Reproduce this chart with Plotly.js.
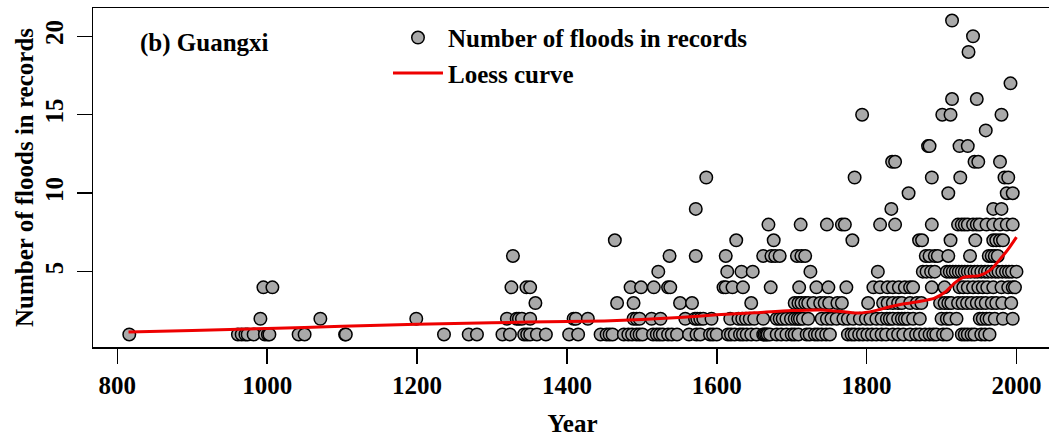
<!DOCTYPE html>
<html>
<head>
<meta charset="utf-8">
<script src="https://cdn.plot.ly/plotly-3.0.1.min.js"></script>
<style>
html,body{margin:0;padding:0;background:#fff;overflow:hidden;width:1049px;height:439px;}
#chart{width:1056px;height:439px;}
</style>
</head>
<body>
<div id="chart"></div>
<script>
const yearsCount1 = [816, 961, 966, 971, 974, 982, 997, 1001, 1003, 1042, 1050, 1104, 1105,
  1236, 1269, 1280, 1314, 1324, 1343, 1347, 1351, 1360, 1372, 1403, 1415, 1445, 1453, 1457, 1461,
  1476, 1482, 1487, 1493, 1497, 1501, 1515, 1520, 1524, 1528, 1535, 1540, 1547, 1563, 1573, 1578,
  1591, 1595, 1600, 1615, 1619, 1624, 1631, 1635, 1640, 1646, 1653, 1662, 1664, 1666, 1668, 1671,
  1680, 1686, 1693, 1700, 1704, 1709, 1720, 1724, 1731, 1735, 1740, 1746, 1751, 1775, 1780, 1784,
  1790, 1795, 1801, 1807, 1813, 1820, 1826, 1835, 1842, 1849, 1858, 1866, 1871, 1878, 1884, 1889,
  1893, 1902, 1907, 1927, 1931, 1935, 1940, 1944, 1953, 1958, 1964];
const yearsCount2 = [991, 1071, 1199, 1320, 1333, 1336, 1340, 1351, 1409, 1412, 1428, 1489, 1493,
  1497, 1513, 1525, 1558, 1571, 1574, 1578, 1582, 1593, 1618, 1629, 1634, 1639, 1644, 1650, 1662,
  1680, 1684, 1688, 1693, 1699, 1704, 1708, 1711, 1715, 1722, 1740, 1747, 1753, 1760, 1769, 1775,
  1782, 1791, 1799, 1805, 1813, 1820, 1827, 1831, 1835, 1842, 1847, 1851, 1855, 1862, 1871, 1900,
  1907, 1911, 1920, 1951, 1955, 1960, 1964, 1971, 1982, 1995];
const yearsCount3 = [1358, 1467, 1489, 1551, 1567, 1646, 1704, 1709, 1713, 1718, 1722, 1729, 1738,
  1744, 1750, 1761, 1767, 1802, 1822, 1828, 1835, 1842, 1847, 1858, 1867, 1873, 1898, 1904, 1909,
  1913, 1922, 1928, 1934, 1940, 1947, 1953, 1959, 1967, 1973, 1981, 1993];
const yearsCount4 = [995, 1007, 1326, 1346, 1351, 1485, 1499, 1516, 1535, 1538, 1609, 1612, 1621,
  1635, 1672, 1710, 1733, 1749, 1773, 1809, 1818, 1828, 1835, 1843, 1851, 1858, 1862, 1887, 1904,
  1924, 1929, 1935, 1942, 1949, 1955, 1961, 1969, 1980, 1989, 1995, 1998];
const yearsCount5 = [1522, 1614, 1633, 1648, 1725, 1815, 1875, 1880, 1886, 1891, 1907, 1911, 1915,
  1919, 1923, 1927, 1931, 1935, 1939, 1944, 1948, 1953, 1958, 1962, 1967, 1972, 1976, 1981, 1986,
  1990, 1994, 2000];
const yearsCount6 = [1328, 1537, 1572, 1612, 1662, 1673, 1678, 1684, 1707, 1713, 1718, 1879, 1884,
  1891, 1895, 1909, 1938, 1963, 1967, 1971, 1975];
const yearsCount7 = [1464, 1626, 1676, 1781, 1870, 1874, 1912, 1945, 1969, 1973, 1978, 1982];
const yearsCount8 = [1669, 1712, 1747, 1767, 1771, 1818, 1838, 1887, 1922, 1927, 1931, 1935, 1942,
  1947, 1951, 1960, 1969, 1978, 1987, 1995];
const yearsCount9 = [1572, 1833, 1969, 1980];
const yearsCount10 = [1856, 1909, 1987, 1995];
const yearsCount11 = [1586, 1784, 1887, 1925, 1984, 1989];
const yearsCount12 = [1834, 1838, 1944, 1949, 1978];
const yearsCount13 = [1882, 1884, 1924, 1935];
const yearsCount14 = [1959];
const yearsCount15 = [1794, 1901, 1912, 1980];
const yearsCount16 = [1914, 1947];
const yearsCount17 = [1992];
const yearsCount19 = [1936];
const yearsCount20 = [1942];
const yearsCount21 = [1914];

// Loess curve
const loessYears  = [815, 900, 1000, 1100, 1200, 1300, 1400, 1450, 1500, 1550, 1600, 1650, 1700,
  1740, 1770, 1790, 1810, 1830, 1850, 1870, 1890, 1905, 1918, 1930, 1950, 1965, 1980, 1990, 2000];
const loessValues = [1.15, 1.25, 1.38, 1.52, 1.65, 1.75, 1.82, 1.86, 1.95, 2.08, 2.25, 2.38, 2.52,
  2.56, 2.45, 2.36, 2.5, 2.75, 2.95, 3.1, 3.3, 3.7, 4.3, 4.65, 4.75, 5.1, 5.9, 6.5, 7.2];

// Axis ticks
const xTicks = [800, 1000, 1200, 1400, 1600, 1800, 2000];
const yTicks = [5, 10, 15, 20];

const rows = [
  [1, yearsCount1], [2, yearsCount2], [3, yearsCount3], [4, yearsCount4], [5, yearsCount5],
  [6, yearsCount6], [7, yearsCount7], [8, yearsCount8], [9, yearsCount9], [10, yearsCount10],
  [11, yearsCount11], [12, yearsCount12], [13, yearsCount13], [14, yearsCount14], [15, yearsCount15],
  [16, yearsCount16], [17, yearsCount17], [19, yearsCount19], [20, yearsCount20], [21, yearsCount21]
];
const px = [], py = [];
rows.forEach(([n, yrs]) => yrs.forEach(yr => { px.push(yr); py.push(n); }));

const F = {family: 'Liberation Serif, Times New Roman, serif', size: 25, color: '#000', weight: 'bold'};

const traces = [
  {
    type: 'scatter', mode: 'markers', name: 'Number of floods in records',
    x: px, y: py,
    marker: {size: 12.5, color: '#a9a9a9', line: {color: '#000', width: 1.5}},
    cliponaxis: false
  },
  {
    type: 'scatter', mode: 'lines', name: 'Loess curve',
    x: loessYears, y: loessValues, line: {color: '#ee0000', width: 3, shape: 'spline', smoothing: 0.6}
  }
];

const layout = {
  width: 1056, height: 439, autosize: false,
  margin: {l: 93, r: 4, t: 8, b: 92, pad: 0},
  paper_bgcolor: '#fff', plot_bgcolor: '#fff',
  font: F,
  showlegend: true,
  legend: {
    x: 0.3076, y: 0.98, xanchor: 'left', yanchor: 'top',
    bgcolor: 'rgba(0,0,0,0)', borderwidth: 0,
    font: F, itemwidth: 50, tracegroupgap: 0
  },
  xaxis: {
    range: [767.6, 2047.4], tickvals: xTicks, ticktext: xTicks.map(String),
    ticks: 'outside', ticklen: 15, tickwidth: 1.5, tickcolor: '#000',
    showline: true, linecolor: '#000', linewidth: 1.5, mirror: true,
    showgrid: false, zeroline: false, tickfont: F, ticklabelstandoff: 0,
    title: {text: 'Year', font: F, standoff: 17}
  },
  yaxis: {
    range: [0.2, 21.8], tickvals: yTicks, ticktext: yTicks.map(String),
    ticks: 'outside', ticklen: 15, tickwidth: 1.5, tickcolor: '#000', tickangle: -90,
    showline: true, linecolor: '#000', linewidth: 1.5, mirror: true,
    showgrid: false, zeroline: false, tickfont: F, ticklabelstandoff: 4,
    title: {text: 'Number of floods in records', font: F, standoff: 0}
  },
  annotations: [
    {text: '(b) Guangxi', xref: 'paper', yref: 'paper', x: 0.047, y: 0.897,
     xanchor: 'left', yanchor: 'middle', showarrow: false, font: F}
  ]
};

Plotly.newPlot('chart', traces, layout, {displayModeBar: false, staticPlot: true});
</script>
</body>
</html>
